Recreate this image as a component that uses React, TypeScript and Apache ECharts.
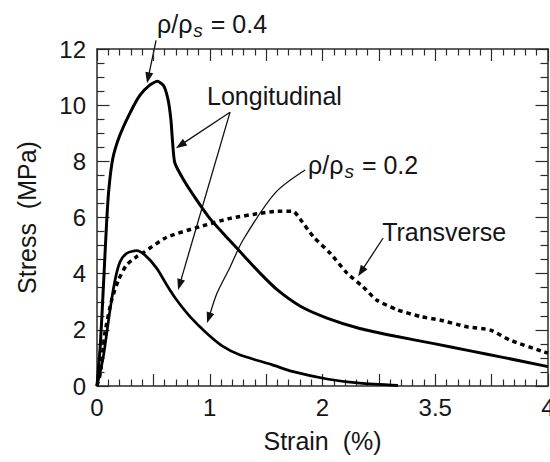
import React, { useEffect, useRef } from 'react';
import * as echarts from 'echarts';

const FONT = '"Liberation Sans", Arial, Helvetica, sans-serif';
const INK = '#151515';
const AXIS = '#2a2a2a';

// x-axis labelled ticks (the original figure labels the 3rd tick "3.5")
const strainTicks = [0, 1, 2, 3, 4];
const strainTickLabels = ['0', '1', '2', '3.5', '4'];

// rho/rho_s = 0.4, longitudinal
const highStrain = [0, 0.03, 0.06, 0.085, 0.105, 0.14, 0.2, 0.29, 0.38, 0.47, 0.535, 0.59, 0.63, 0.655, 0.67, 0.69, 0.77, 0.885, 1.0, 1.15, 1.3, 1.45, 1.6, 1.8, 2.04, 2.33, 2.65, 3.0, 3.3, 3.6, 4.0];
const highStress = [0, 1.5, 3.8, 5.8, 7.0, 8.1, 8.9, 9.7, 10.35, 10.72, 10.85, 10.7, 10.2, 9.5, 8.7, 7.95, 7.33, 6.62, 5.97, 5.3, 4.65, 4.0, 3.42, 2.85, 2.42, 2.05, 1.77, 1.5, 1.26, 1.02, 0.69];

// rho/rho_s = 0.2, longitudinal
const lowStrain = [0, 0.056, 0.115, 0.16, 0.204, 0.263, 0.35, 0.426, 0.53, 0.62, 0.707, 0.825, 0.973, 1.12, 1.27, 1.45, 1.55, 1.74, 2.04, 2.33, 2.67];
const lowStress = [0, 1.04, 2.7, 3.77, 4.42, 4.72, 4.82, 4.66, 4.19, 3.59, 3.06, 2.47, 1.88, 1.4, 1.1, 0.88, 0.76, 0.51, 0.25, 0.1, 0.02];

// transverse
const transStrain = [0, 0.03, 0.07, 0.13, 0.19, 0.26, 0.35, 0.41, 0.62, 0.91, 1.18, 1.45, 1.6, 1.74, 1.8, 1.92, 2.07, 2.22, 2.36, 2.48, 2.66, 2.87, 3.04, 3.28, 3.49, 3.66, 3.96, 4.0];
const transStress = [0, 0.46, 1.88, 3.06, 3.77, 4.3, 4.6, 4.75, 5.3, 5.67, 5.97, 6.15, 6.22, 6.22, 5.95, 5.31, 4.72, 4.01, 3.53, 3.06, 2.72, 2.47, 2.35, 2.11, 1.99, 1.64, 1.22, 1.17];

// annotation anchors (data coordinates)
const labelHighPos = [0.532, 12.9];
const labelLongPos = [0.976, 10.33];
const labelLowPos = [1.872, 7.88];
const labelTransPos = [2.529, 5.49];

const arrowHigh = [[0.524, 12.31], [0.444, 10.78]];
const arrowLongA = [[1.18, 9.75], [0.7, 8.47]];
const arrowLongB = [[1.18, 9.75], [0.719, 3.42]];
const arrowLow = [[1.846, 7.69], [1.579, 6.87], [1.295, 5.2], [1.18, 4.23], [1.065, 3.31], [0.976, 2.24]];
const arrowTrans = [[2.538, 5.27], [2.316, 3.91]];

const zip = (xs: number[], ys: number[]) => xs.map((x, i) => [x, ys[i]]);

export default function App() {
  const ref = useRef<HTMLDivElement>(null);

  useEffect(() => {
    document.body.style.margin = '0';
    if (!ref.current) return;
    const chart = echarts.init(ref.current, undefined, { renderer: 'svg' });

    const axisLine = { show: true, onZero: false, lineStyle: { color: AXIS, width: 1.5 } };

    const xBase = {
      type: 'value' as const,
      min: 0,
      max: 4,
      interval: 0.5,
      axisLine,
      splitLine: { show: false },
      axisTick: { show: true, inside: true, length: 12, lineStyle: { color: AXIS, width: 1.2 } },
      minorTick: { show: true, splitNumber: 5, length: 6.5, lineStyle: { color: AXIS, width: 1.2 } },
    };
    const yBase = {
      type: 'value' as const,
      min: 0,
      max: 12,
      interval: 2,
      axisLine,
      splitLine: { show: false },
      axisTick: { show: true, inside: true, length: 12.5, lineStyle: { color: AXIS, width: 1.2 } },
      minorTick: { show: true, splitNumber: 4, length: 7.5, lineStyle: { color: AXIS, width: 1.2 } },
    };

    chart.setOption({
      animation: false,
      grid: { left: 97, top: 49, width: 451, height: 337, containLabel: false, outerBoundsMode: 'none' },
      xAxis: [
        {
          ...xBase,
          position: 'bottom',
          name: 'Strain  (%)',
          nameLocation: 'middle',
          nameGap: 42,
          nameTextStyle: { fontFamily: FONT, fontSize: 25, color: INK },
          axisLabel: {
            fontFamily: FONT,
            fontSize: 24,
            color: INK,
            margin: 9,
            formatter: (v: number) => {
              const i = strainTicks.indexOf(v);
              return i >= 0 ? strainTickLabels[i] : '';
            },
          },
        },
        { ...xBase, position: 'top', axisLabel: { show: false } },
      ],
      yAxis: [
        {
          ...yBase,
          position: 'left',
          name: 'Stress  (MPa)',
          nameLocation: 'middle',
          nameGap: 58,
          nameRotate: 90,
          nameTextStyle: { fontFamily: FONT, fontSize: 25, color: INK },
          axisLabel: { fontFamily: FONT, fontSize: 24, color: INK, margin: 11 },
        },
        { ...yBase, position: 'right', axisLabel: { show: false } },
      ],
      series: [
        {
          name: 'ρ/ρs = 0.4 longitudinal',
          type: 'line',
          data: zip(highStrain, highStress),
          showSymbol: false,
          symbol: 'none',
          smooth: 0.2,
          lineStyle: { color: '#000', width: 3 },
        },
        {
          name: 'ρ/ρs = 0.2 longitudinal',
          type: 'line',
          data: zip(lowStrain, lowStress),
          showSymbol: false,
          symbol: 'none',
          smooth: 0.25,
          lineStyle: { color: '#000', width: 2.7 },
        },
        {
          name: 'Transverse',
          type: 'line',
          data: zip(transStrain, transStress),
          showSymbol: false,
          symbol: 'none',
          smooth: 0.2,
          lineStyle: { color: '#000', width: 3.5, type: [4.5, 4], cap: 'butt' },
        },
      ],
    });

    const toPx = (p: number[]) => chart.convertToPixel({ gridIndex: 0 }, p) as number[];

    const arrow = (pts: number[][], smooth = 0) => {
      const px = pts.map(toPx);
      const tip = px[px.length - 1];
      const from = px[px.length - 2];
      const dx = tip[0] - from[0];
      const dy = tip[1] - from[1];
      const L = Math.hypot(dx, dy);
      const ux = dx / L;
      const uy = dy / L;
      const len = 11;
      const hw = 4;
      const bx = tip[0] - ux * len;
      const by = tip[1] - uy * len;
      const shaft = px.slice(0, -1).concat([[tip[0] - ux * (len - 2), tip[1] - uy * (len - 2)]]);
      return [
        {
          type: 'polyline',
          shape: { points: shaft, smooth },
          style: { stroke: '#111', lineWidth: 1.3, fill: null },
          silent: true,
        },
        {
          type: 'polygon',
          shape: { points: [tip, [bx - uy * hw, by + ux * hw], [bx + uy * hw, by - ux * hw]] },
          style: { fill: '#111' },
          silent: true,
        },
      ];
    };

    const textEl = (pos: number[], text: string, rich?: any) => {
      const p = toPx(pos);
      return {
        type: 'text',
        x: p[0],
        y: p[1],
        silent: true,
        style: {
          text,
          fontFamily: FONT,
          fontSize: 25,
          fill: INK,
          align: 'left',
          verticalAlign: 'middle',
          textAlign: 'left',
          textVerticalAlign: 'middle',
          rich,
        },
      };
    };

    const rhoRich = {
      r: { fontFamily: FONT, fontSize: 25, fill: INK, color: INK },
      s: { fontFamily: FONT, fontSize: 19, fontStyle: 'italic', fill: INK, color: INK, padding: [13, 1, 0, 1] },
    };

    chart.setOption({
      graphic: [
        ...arrow(arrowHigh),
        ...arrow(arrowLongA),
        ...arrow(arrowLongB),
        ...arrow(arrowLow, 0.3),
        ...arrow(arrowTrans),
        textEl(labelHighPos, '{r|ρ/ρ}{s|s}{r| = 0.4}', rhoRich),
        textEl(labelLongPos, 'Longitudinal'),
        textEl(labelLowPos, '{r|ρ/ρ}{s|s}{r| = 0.2}', rhoRich),
        textEl(labelTransPos, 'Transverse'),
      ],
    });

    return () => chart.dispose();
  }, []);

  return <div ref={ref} style={{ width: 550, height: 462 }} />;
}
